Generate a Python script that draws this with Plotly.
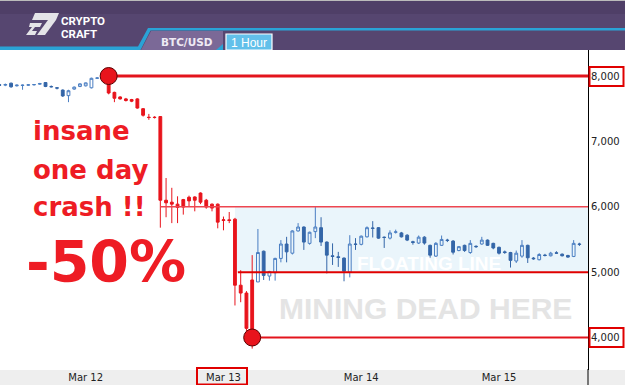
import plotly.graph_objects as go

# ---------------- data ----------------
# hourly candles, hours counted from Mar 12 00:00
hours = list(range(-15, 87))
opens = [7865, 7860, 7890, 7850, 7855, 7860, 7865, 7875, 7900, 7840, 7820, 7785, 7700, 7800, 7840, 7850, 7820, 7965,
         7970, 7950, 7750, 7680, 7650, 7640, 7650, 7500, 7370, 7370, 7380, 6100, 6070, 6040, 5995, 6090, 6100, 6070,
         6100, 6040, 6040, 5790, 5800, 5810, 4800, 4680, 4110,
         4850, 5320, 4940, 4990, 5210, 5430, 5290, 5630, 5690, 5440, 5620, 5680, 5460, 5250, 5235, 5215, 5000, 5430,
         5425, 5540, 5675, 5680, 5535, 5520, 5610, 5600, 5565, 5465, 5445, 5535, 5410, 5245, 5410, 5490, 5475, 5330,
         5410, 5300, 5395, 5430, 5490, 5440, 5380, 5310, 5300, 5170, 5245, 5410, 5215, 5190, 5260, 5250, 5295, 5275,
         5255, 5240, 5430]
highs = [7880, 7885, 7900, 7870, 7870, 7875, 7875, 7895, 7905, 7855, 7830, 7795, 7790, 7840, 7890, 7900, 7975, 7980,
         8000, 7960, 7760, 7690, 7665, 7650, 7660, 7510, 7420, 7385, 7385, 6440, 6290, 6160, 6120, 6170, 6160, 6220,
         6120, 6050, 6050, 5850, 5920, 5830, 5030, 4710, 5260,
         5660, 5330, 5020, 5220, 5490, 5540, 5640, 5750, 5700, 5620, 5995, 5840, 5470, 5440, 5310, 5225, 5565, 5520,
         5560, 5700, 5780, 5690, 5545, 5640, 5650, 5615, 5580, 5480, 5560, 5550, 5420, 5460, 5560, 5510, 5490, 5400,
         5420, 5490, 5410, 5540, 5500, 5450, 5390, 5330, 5310, 5330, 5490, 5420, 5230, 5290, 5280, 5310, 5320, 5285,
         5265, 5490, 5450]
lows = [7850, 7845, 7820, 7840, 7790, 7850, 7855, 7865, 7830, 7825, 7795, 7680, 7600, 7790, 7830, 7840, 7810, 7955,
        7960, 7720, 7600, 7640, 7610, 7600, 7500, 7380, 7330, 7350, 5680, 5840, 5750, 5750, 5880, 6000, 5930, 6040,
        5970, 5930, 5670, 5640, 5750, 4490, 4540, 4100, 3830,
        4850, 4880, 4870, 4870, 5150, 5150, 5270, 5620, 5340, 5420, 5520, 5400, 4980, 5110, 5080, 4860, 4920, 5340,
        5410, 5530, 5530, 5510, 5370, 5500, 5590, 5530, 5475, 5420, 5430, 5420, 5220, 5200, 5400, 5460, 5270, 5320,
        5310, 5280, 5370, 5420, 5400, 5350, 5270, 5280, 5070, 5140, 5220, 5140, 5190, 5180, 5240, 5240, 5280, 5240,
        5220, 5230, 5400]
closes = [7860, 7870, 7835, 7860, 7860, 7865, 7870, 7885, 7840, 7835, 7815, 7695, 7775, 7830, 7880, 7895, 7965, 7970,
          7990, 7740, 7660, 7650, 7625, 7615, 7510, 7400, 7365, 7365, 6100, 6060, 6040, 5990, 6110, 6145, 6150, 6210,
          5995, 5980, 5765, 5800, 5790, 4800, 4680, 4140, 4880,
          5300, 4950, 5010, 5210, 5430, 5310, 5630, 5690, 5460, 5610, 5690, 5460, 5260, 5240, 5225, 5015, 5430, 5425,
          5550, 5680, 5670, 5520, 5530, 5600, 5615, 5540, 5490, 5455, 5535, 5445, 5260, 5440, 5500, 5485, 5305, 5390,
          5330, 5440, 5390, 5490, 5410, 5370, 5290, 5300, 5180, 5290, 5410, 5220, 5205, 5270, 5255, 5290, 5290, 5250,
          5230, 5440, 5425]
crash_first, crash_last = 3, 29          # hours drawn in red (the crash)

day_ticks = [0, 24, 48, 72]
day_labels = ["Mar 12", "Mar 13", "Mar 14", "Mar 15"]
price_ticks = [4000, 5000, 6000, 7000, 8000]
price_labels = ["4,000", "5,000", "6,000", "7,000", "8,000"]

levels = [8000, 6000, 5000, 4000]
level_start_hours = [4, 13, 26.5, 29]
level_widths = [3, 1.5, 2, 2]
level_colors = ["#e3141c", "#ee4650", "#e00000", "#e3141c"]

marker_hours = [4, 29]
marker_prices = [8000, 4000]

zone_start_hour = 26
zone_low, zone_high = 5000, 6000

# ---------------- geometry helpers ----------------
W, H = 625, 385
ML, MR, MT, MB = 0, 37, 50, 15
PW, PH = W - ML - MR, H - MT - MB
def px(x): return (x - ML) / PW
def py(y): return (H - MB - y) / PH

x_range = [-14.93, 87.5]
y_range = [3503, 8398]

RED = "#e8141c"
BLUE_D = "#3466a8"
BLUE_L = "#4a7ec2"

fig = go.Figure()

blue_idx = [k for k, h in enumerate(hours) if not (crash_first <= h <= crash_last)]
red_idx = [k for k, h in enumerate(hours) if crash_first <= h <= crash_last]

def sub(arr, idx): return [arr[k] for k in idx]

fig.add_trace(go.Candlestick(
    x=sub(hours, blue_idx), open=sub(opens, blue_idx), high=sub(highs, blue_idx),
    low=sub(lows, blue_idx), close=sub(closes, blue_idx),
    increasing=dict(line=dict(color=BLUE_L, width=1), fillcolor="rgba(255,255,255,0)"),
    decreasing=dict(line=dict(color=BLUE_D, width=1), fillcolor=BLUE_D),
    showlegend=False, hoverinfo="skip"))
fig.add_trace(go.Candlestick(
    x=sub(hours, red_idx), open=sub(opens, red_idx), high=sub(highs, red_idx),
    low=sub(lows, red_idx), close=sub(closes, red_idx),
    increasing=dict(line=dict(color=RED, width=1), fillcolor=RED),
    decreasing=dict(line=dict(color=RED, width=1), fillcolor=RED),
    showlegend=False, hoverinfo="skip"))

for lv, st, wd, col in zip(levels, level_start_hours, level_widths, level_colors):
    fig.add_trace(go.Scatter(x=[st, x_range[1]], y=[lv, lv], mode="lines",
                             line=dict(color=col, width=wd), showlegend=False, hoverinfo="skip"))

fig.add_trace(go.Scatter(x=marker_hours, y=marker_prices, mode="markers",
                         marker=dict(size=17, color=RED, line=dict(color="#5a0000", width=1)),
                         showlegend=False, hoverinfo="skip"))

shapes = []
# floating zone
shapes.append(dict(type="rect", xref="x", yref="y", x0=zone_start_hour, x1=x_range[1], y0=zone_low, y1=zone_high,
                   fillcolor="#eaf5fb", line=dict(width=0), layer="below"))
# bottom strip
shapes.append(dict(type="rect", xref="paper", yref="paper", x0=px(0), x1=px(W), y0=py(H), y1=py(370),
                   fillcolor="#eeeeee", line=dict(width=0), layer="below"))
shapes.append(dict(type="line", xref="paper", yref="paper", x0=px(588), x1=px(588), y0=py(385), y1=py(369),
                   line=dict(color="black", width=1), layer="above"))
# header
shapes.append(dict(type="rect", xref="paper", yref="paper", x0=px(0), x1=px(W), y0=py(50), y1=py(0),
                   fillcolor="#564670", line=dict(width=0), layer="above"))
shapes.append(dict(type="rect", xref="paper", yref="paper", x0=px(0), x1=px(W), y0=py(14), y1=py(0),
                   fillcolor="#4f3f67", line=dict(width=0), layer="above"))
shapes.append(dict(type="line", xref="paper", yref="paper", x0=px(0), x1=px(W), y0=py(0.5), y1=py(0.5),
                   line=dict(color="#bbbbbb", width=1), layer="above"))

def poly(pts):
    s = "M " + " L ".join(f"{px(a):.5f},{py(b):.5f}" for a, b in pts) + " Z"
    return s

shapes.append(dict(type="path", xref="paper", yref="paper", layer="above",
                   path=poly([(141, 50), (151, 31), (223, 31), (223, 50)]),
                   fillcolor="#7b6997", line=dict(width=0)))
shapes.append(dict(type="path", xref="paper", yref="paper", layer="above",
                   path=poly([(0, 46.5), (138, 46.5), (148, 28), (625, 28), (625, 30.5), (150.5, 30.5),
                              (140.5, 50), (0, 50)]),
                   fillcolor="#2aa3d6", line=dict(width=0)))
shapes.append(dict(type="path", xref="paper", yref="paper", layer="above",
                   path=poly([(216, 50), (223, 44), (223, 50)]),
                   fillcolor="#2aa3d6", line=dict(width=0)))
shapes.append(dict(type="rect", xref="paper", yref="paper", x0=px(226), x1=px(272), y0=py(50), y1=py(34),
                   fillcolor="#62c0ea", line=dict(color="white", width=1.2), layer="above"))
# logo icon
for pts in [
    [(35, 13), (59, 13), (56, 20), (32, 20)],
    [(48, 20), (56, 20), (45, 35), (37, 35)],
    [(30, 23), (42, 23), (40, 27), (35, 27), (32, 31), (37, 31), (35, 35), (26, 35), (32, 27), (29, 27)],
]:
    shapes.append(dict(type="path", xref="paper", yref="paper", layer="above",
                       path=poly(pts), fillcolor="#e4e4e8", line=dict(width=0)))
# red highlight boxes
for x0, x1, y0, y1 in [(589.5, 623.5, 67, 86), (589.5, 623.5, 328, 347), (197, 247, 368, 384.5)]:
    shapes.append(dict(type="rect", xref="paper", yref="paper", x0=px(x0), x1=px(x1), y0=py(y1), y1=py(y0),
                       fillcolor="rgba(0,0,0,0)", line=dict(color="#e00000", width=2), layer="above"))

ann = []
def text(t, x, y, size, color, family="Liberation Sans", xanchor="left"):
    ann.append(dict(text=t, x=px(x), y=py(y), xref="paper", yref="paper", xanchor=xanchor, yanchor="middle",
                    showarrow=False, font=dict(size=size, color=color, family=family)))

text("<b>FLOATING LINE</b>", 355, 263, 19, "white")
text("<b>MINING DEAD HERE</b>", 277, 308, 30, "#e4e4e4")
text("<b>insane</b>", 31, 131, 26, "#ee1c24", family="DejaVu Sans")
text("<b>one day</b>", 31, 170, 26, "#ee1c24", family="DejaVu Sans")
text("<b>crash !!</b>", 31, 207, 26, "#ee1c24", family="DejaVu Sans")
text("<b>-50%</b>", 24, 262, 57, "#ee1c24", family="DejaVu Sans")
text("<b>CRYPTO</b>", 59, 21, 11.5, "white", family="Roboto")
text("<b>CRAFT</b>", 59, 34, 11.5, "white", family="Roboto")
text("<b>BTC/USD</b>", 187, 42, 10.5, "#eeeaf4", family="DejaVu Sans", xanchor="center")
text("1 Hour", 249, 42.5, 12, "white", family="Liberation Sans", xanchor="center")

fig.update_layout(
    width=W, height=H, margin=dict(l=ML, r=MR, t=MT, b=MB),
    paper_bgcolor="white", plot_bgcolor="white",
    shapes=shapes, annotations=ann, showlegend=False,
    xaxis=dict(range=x_range, tickvals=day_ticks, ticktext=day_labels, showgrid=False, zeroline=False,
               showline=False, ticks="", rangeslider=dict(visible=False),
               tickfont=dict(family="DejaVu Sans", size=10, color="#222")),
    yaxis=dict(range=y_range, side="right", tickvals=price_ticks, ticktext=price_labels, showgrid=False,
               zeroline=False, showline=True, linecolor="black", linewidth=1, ticks="",
               tickfont=dict(family="DejaVu Sans", size=10, color="#222")),
)

fig.write_html("out.html")
